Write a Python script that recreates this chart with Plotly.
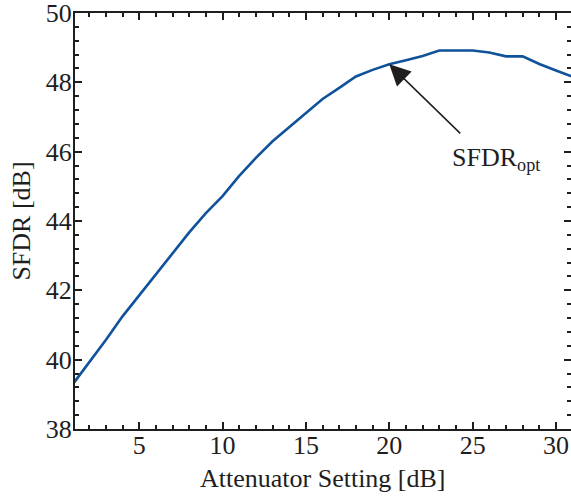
import plotly.graph_objects as go

atten = [1, 2, 3, 4, 5, 6, 7, 8, 9, 10, 11, 12, 13, 14, 15, 16,
         17, 18, 19, 20, 21, 22, 23, 24, 25, 26, 27, 28, 29, 30, 31]
sfdr = [39.28, 39.92, 40.57, 41.25, 41.85, 42.47, 43.06, 43.67, 44.23, 44.72,
        45.30, 45.82, 46.30, 46.70, 47.12, 47.52, 47.84, 48.17, 48.36, 48.52,
        48.64, 48.76, 48.92, 48.92, 48.92, 48.86, 48.75, 48.75, 48.53, 48.34, 48.16]

opt_x = 20
opt_y = 48.52

FONT = "Liberation Serif, Times New Roman, serif"
INK = "#1e1e1e"

fig = go.Figure()
fig.add_trace(go.Scatter(x=atten, y=sfdr, mode="lines",
                         line=dict(color="#10529a", width=2.6),
                         showlegend=False))

# arrow pointing at the optimum
fig.add_annotation(x=opt_x, y=opt_y, text=" ", showarrow=True,
                   ax=74, ay=72, arrowhead=2, arrowsize=2.8, arrowwidth=1.5,
                   arrowcolor=INK, standoff=0, font=dict(size=10))
fig.add_annotation(x=23.65, y=45.8, text="SFDR<sub>opt</sub>", showarrow=False,
                   xanchor="left", yanchor="middle",
                   font=dict(family=FONT, size=26, color=INK))

# x-axis title as an annotation so it can sit exactly under the tick labels
fig.add_annotation(x=0.5, y=0, xref="paper", yref="paper",
                   text="Attenuator Setting [dB]", showarrow=False,
                   xanchor="center", yanchor="middle", yshift=-49,
                   font=dict(family=FONT, size=26, color=INK))

axis_common = dict(showgrid=False, zeroline=False, showline=True, automargin=False,
                   linecolor=INK, linewidth=2, mirror="ticks",
                   ticks="inside", ticklen=7, tickwidth=1.5, tickcolor=INK,
                   ticklabeloverflow="allow",
                   tickfont=dict(family=FONT, size=26, color=INK))

fig.update_xaxes(range=[1.15, 30.9], tick0=0, dtick=5, ticklabelstandoff=-8,
                 minor=dict(ticks="inside", dtick=1, ticklen=4, tickcolor=INK),
                 **axis_common)
fig.update_yaxes(range=[38, 50], tick0=38, dtick=2, ticklabelstandoff=-4,
                 minor=dict(ticks="inside", dtick=0.4, ticklen=4, tickcolor=INK),
                 title=dict(text="SFDR [dB]", standoff=8,
                            font=dict(family=FONT, size=26, color=INK)),
                 **axis_common)

fig.update_layout(width=571, height=497,
                  margin=dict(l=75, r=0, t=13, b=68),
                  paper_bgcolor="white", plot_bgcolor="white")

# page body has a default 8px margin; drop it so the figure sits at the corner
fig.write_html("out.html", config={"displayModeBar": False},
               post_script="document.body.style.margin='0px';")
